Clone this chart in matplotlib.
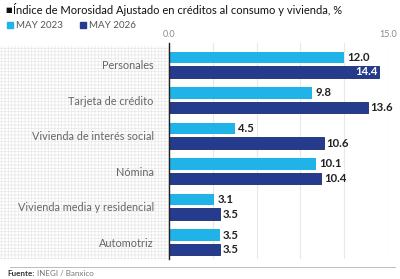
import numpy as np
import matplotlib
matplotlib.use("Agg")
import matplotlib.pyplot as plt
from matplotlib.patches import Rectangle

categories = ["Personales", "Tarjeta de crédito", "Vivienda de interés social",
              "Nómina", "Vivienda media y residencial", "Automotriz"]
may_2023 = [12.0, 9.8, 4.5, 10.1, 3.1, 3.5]
may_2026 = [14.4, 13.6, 10.6, 10.4, 3.5, 3.5]
series_names = ["MAY 2023", "MAY 2026"]

c23 = "#1fb3e8"
c26 = "#253c8e"

plt.rcParams["font.family"] = ["Lato", "DejaVu Sans"]
plt.rcParams["hatch.linewidth"] = 0.5

fig = plt.figure(figsize=(4.0, 2.79), dpi=100)
ax = fig.add_axes([169 / 400, 1 - 259 / 279, (388 - 169) / 400, (259 - 43) / 279])

# dotted texture behind the category labels
bg = Rectangle((0, 1 - 259 / 279), 169 / 400, (259 - 46) / 279, transform=fig.transFigure,
               facecolor="white", edgecolor="#e8e8e8", hatch="+++++", linewidth=0, zorder=-1)
fig.patches.append(bg)

y = np.arange(len(categories))
off = 0.205
h = 0.32
ax.barh(y - off, may_2023, height=h, color=c23, zorder=3)
ax.barh(y + off, may_2026, height=h, color=c26, edgecolor="#1a2a6c", linewidth=0.6, zorder=3)

vsize = 8.2
for yi, v in zip(y, may_2023):
    ax.text(v + 0.2, yi - off, f"{v:.1f}", va="center", ha="left", fontsize=vsize,
            fontweight="bold", color="#222222")
for yi, v in zip(y, may_2026):
    if v > 14:
        ax.text(v - 0.12, yi + off, f"{v:.1f}", va="center", ha="right", fontsize=vsize,
                fontweight="bold", color="white", zorder=4)
    else:
        ax.text(v + 0.2, yi + off, f"{v:.1f}", va="center", ha="left", fontsize=vsize,
                fontweight="bold", color="#222222")

ax.set_xlim(0, 15)
ax.set_ylim(5.47, -0.61)
ax.set_xticks([0, 3, 6, 9, 12, 15])
ax.set_xticklabels(["0.0", "", "", "", "", "15.0"])
ax.xaxis.tick_top()
ax.tick_params(axis="x", length=0, labelsize=6.5, labelcolor="#8a8a8a", pad=3)
ax.grid(axis="x", color="#e8e8e8", linewidth=0.8, zorder=0)
ax.set_yticks(y)
ax.set_yticklabels(categories)
ax.tick_params(axis="y", length=0, labelsize=7.8, labelcolor="#666666", pad=11)
for s in ["top", "right", "bottom"]:
    ax.spines[s].set_visible(False)
ax.spines["left"].set_color("#222222")
ax.spines["left"].set_linewidth(1.0)
ax.spines["left"].set_zorder(5)

# title with bullet
fig.text(5 / 400, 1 - 10 / 279, "\u25A0", fontsize=5, color="#111111", va="center", ha="left",
         family="DejaVu Sans")
fig.text(13 / 400, 1 - 10 / 279, "Índice de Morosidad Ajustado en créditos al consumo y vivienda, %",
         fontsize=8.0, color="#111111", va="center", ha="left")

# legend
for xs, name, col in [(7, series_names[0], c23), (80, series_names[1], c26)]:
    fig.patches.append(Rectangle((xs / 400, 1 - 28 / 279), 6 / 400, 6 / 279,
                                 transform=fig.transFigure, color=col))
    fig.text((xs + 9) / 400, 1 - 25 / 279, name, fontsize=7.0, color="#555555",
             va="center", ha="left")

# separator and source
fig.add_artist(plt.Line2D([10 / 400, 395 / 400], [1 - 267 / 279, 1 - 267 / 279],
                          transform=fig.transFigure, color="#bbbbbb", linewidth=0.7))
fig.text(7 / 400, 1 - 274 / 279, "Fuente:", fontsize=5.8, fontweight="bold", color="#333333",
         va="center", ha="left")
fig.text(37 / 400, 1 - 274 / 279, "INEGI / Banxico", fontsize=5.8, color="#777777",
         va="center", ha="left")

fig.savefig("out.png", dpi=100)
